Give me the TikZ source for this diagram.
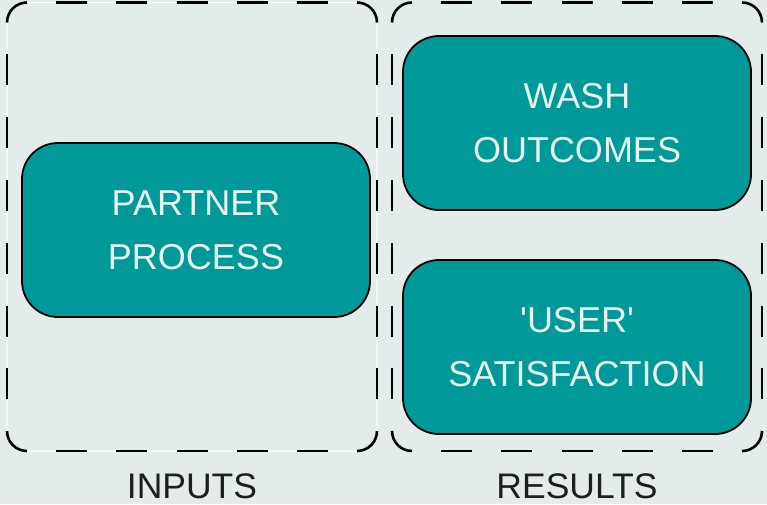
\documentclass[tikz,border=0pt]{standalone}
\usepackage{fontspec}
\setmainfont{Liberation Sans}[Ligatures=TeXOff]
\definecolor{bgc}{HTML}{E3ECEA}
\definecolor{tealc}{HTML}{009999}
\definecolor{txtc}{HTML}{E8F2EF}
\definecolor{labc}{HTML}{1E1E1E}
\tikzset{
  grp/.style={draw=black, line width=2.6pt},
  hdash/.style={dash pattern=on 31pt off 29.17pt, dash phase=31pt},
  vdash/.style={dash pattern=on 31pt off 31.8pt, dash phase=31pt},
  proc/.style={draw=black, line width=1.8pt, fill=tealc, rectangle, rounded corners=36pt,
    minimum width=348pt, minimum height=174pt, align=center, text=txtc,
    font=\fontsize{36}{54}\selectfont},
  lab/.style={text=labc, font=\fontsize{35.5}{42}\selectfont, inner sep=0pt}
}
\newcommand\grpbox[4]{%
  \draw[grp, rounded corners=20pt] (#1,#2+20) -- (#1,#2) -- (#1+20,#2);
  \draw[grp, rounded corners=20pt] (#3-20,#2) -- (#3,#2) -- (#3,#2+20);
  \draw[grp, rounded corners=20pt] (#3,#4-20) -- (#3,#4) -- (#3-20,#4);
  \draw[grp, rounded corners=20pt] (#1+20,#4) -- (#1,#4) -- (#1,#4-20);
  \draw[grp, hdash] (#1+20,#2) -- (#3-20,#2);
  \draw[grp, hdash] (#1+20,#4) -- (#3-20,#4);
  \draw[grp, vdash] (#1,#2+20) -- (#1,#4-20);
  \draw[grp, vdash] (#3,#2+20) -- (#3,#4-20);
}
\begin{document}
\begin{tikzpicture}[x=1pt,y=-1pt]
\fill[bgc] (0,0) rectangle (767,504);
\useasboundingbox (0,0) rectangle (767,504);
% inputs group
\draw[white, line width=1.2pt, rounded corners=20pt] (7,2.5) rectangle (377,451);
\grpbox{7}{2.5}{377}{451}
% results group
\grpbox{392}{2.5}{762}{451}
% boxes
\node[proc] (partner) at (196,230) {PARTNER\\PROCESS};
\node[proc] (wash) at (577,123) {WASH\\OUTCOMES};
\node[proc] (user) at (577,347) {'USER'\\SATISFACTION};
% labels
\node[lab, anchor=base] (inputs) at (192,498) {INPUTS};
\node[lab, anchor=base] (results) at (577,498) {RESULTS};
\end{tikzpicture}
\end{document}
